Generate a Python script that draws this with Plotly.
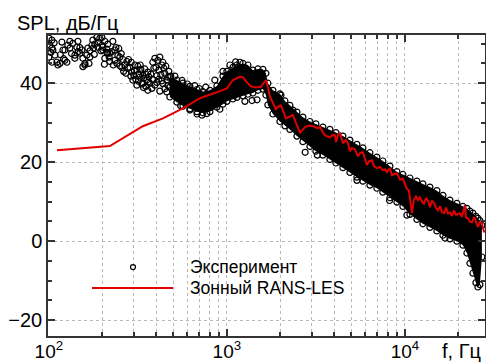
import plotly.graph_objects as go

# ---- Experimental spectrum: individually resolved points (low frequencies and outliers)
exp_freq = [
    100, 101.3, 104, 100, 105.3, 108.1, 110.9, 112.4, 115.3, 118.3, 119.9, 123, 126.2, 127.8,
    131.2, 136.4, 139.9, 143.6, 145.5, 149.3, 153.2, 155.2, 159.3, 163.4, 165.6, 174.4, 176.6,
    181.2, 186, 188.4, 193.3, 198.4, 201, 206.2, 211.6, 214.4,
    104, 104, 123, 131.2, 139.9, 149.3, 159.3, 169.9, 155.2, 102.5, 107, 116, 121, 134, 146,
    170, 180, 190, 196, 168, 178,
    198.4, 201, 211.6, 220, 228.7, 234.7, 240.9, 250.4, 257, 267.1, 277.7, 292.4, 304, 311.9,
    324.3, 337.1, 355, 359.6, 369, 383.6, 393.7, 409.3, 420, 431, 436.6, 448.1, 459.8, 465.8,
    478, 490.6, 497, 311.9, 337.1, 359.6, 296.2,
    206.2, 214.4, 220, 225.8, 234.7, 244, 250.4, 260.3, 270.6, 274.1, 285, 288.7, 300.1, 307.9,
    316, 320.1, 328.5, 332.8, 341.5, 345.9, 350.4, 364.3, 373.8, 378.7, 388.6, 398.8, 404,
    414.6, 425.5, 442.3, 453.9, 471.9, 484.3,
    393.7, 420, 448.1, 404, 436.6, 459.8, 383.6, 414.6, 431, 465.8,
    205, 218, 230, 238, 247, 255, 263, 280, 290, 302, 318, 326, 340, 352, 362,
    724, 772, 913, 855, 1184, 1262, 1384, 1477, 550, 620, 680, 1040, 1120, 950,
    510, 560, 600, 660, 700, 760,
    2012, 2349, 2752, 3222, 5376, 10260, 16800, 8200,
]
exp_spl = [
    51.4, 49.6, 50.9, 46.6, 48.4, 47.1, 45.3, 44.6, 45.0, 50.4, 48.4, 45.8, 45.3, 49.6,
    48.9, 50.1, 47.1, 49.1, 50.6, 47.6, 48.4, 46.3, 45.0, 47.1, 48.9, 49.6, 50.9,
    49.9, 51.6, 49.1, 51.4, 49.6, 48.4, 50.6, 48.6, 47.6,
    48.9, 45.3, 48.4, 50.6, 46.3, 49.0, 44.6, 46.6, 44.2, 47.8, 50.2, 47.2, 46.2, 47.5, 48.0,
    48.2, 47.3, 50.3, 48.2, 45.0, 48.9,
    51.6, 49.1, 47.8, 47.6, 50.6, 45.8, 45.0, 46.6, 44.0, 44.6, 43.8, 42.8, 44.6, 43.3,
    41.5, 42.0, 40.8, 42.8, 40.0, 45.3, 46.3, 45.8, 46.6, 44.6, 45.3, 42.5, 40.8, 41.5,
    39.0, 40.0, 38.2, 39.5, 40.0, 38.2, 40.8,
    46.3, 49.9, 45.5, 48.0, 48.4, 47.0, 44.4, 46.0, 42.5, 45.5, 44.0, 41.8, 42.0, 41.0,
    44.3, 42.3, 43.5, 39.8, 41.3, 43.6, 39.2, 41.6, 42.3, 38.7, 43.8, 44.0, 41.9,
    43.3, 42.2, 43.8, 44.3, 43.0, 41.8,
    39.5, 38.0, 38.6, 40.2, 39.9, 37.8, 40.9, 41.0, 40.6, 39.4,
    44.8, 46.6, 44.6, 49.0, 48.8, 47.5, 43.0, 46.0, 45.3, 43.2, 40.5, 44.6, 38.9, 42.2, 40.3,
    31.9, 32.3, 33.4, 40.8, 45.3, 35.4, 35.6, 35.8, 34.3, 33.2, 32.2, 44.6, 45.4, 43.0,
    41.8, 40.7, 39.8, 39.4, 38.6, 39.0,
    37.0, 33.2, 22.5, 21.8, 15.4, 6.6, 0.8, 10.3,
]

# ---- Experimental spectrum: saturated band (upper / lower edge of the point cloud)
band_freq = [
    478, 524, 566, 620, 679, 733, 803, 878, 950, 1000, 1081, 1138, 1230, 1312, 1400, 1494,
    1593, 1656, 1699, 1813, 1985, 2118, 2259, 2474, 2673, 2927, 3162, 3462, 3791, 4097,
    4485, 4911, 5376, 5808, 6358, 6962, 7520, 8236, 9018, 9745, 10670, 11680, 12620,
    13820, 15130, 16350, 17900, 19600, 21180, 22300, 23190, 24100, 25060, 25710, 26380, 27070,
]
band_upper = [
    41.5, 40.8, 40.0, 39.2, 38.4, 37.9, 38.2, 39.3, 41.8, 43.0, 44.0, 44.6, 45.0, 44.6, 43.3, 43.6,
    43.5, 42.5, 40.0, 38.2, 37.3, 35.5, 34.4, 32.7, 31.4, 30.3, 29.7, 28.9, 28.3, 27.5,
    26.6, 25.6, 24.5, 23.6, 22.4, 21.3, 20.3, 19.0, 17.6, 16.9, 16.0, 15.2, 14.5,
    13.7, 12.8, 11.6, 10.4, 9.6, 8.8, 8.3, 7.6, 7.1, 6.3, 5.8, 5.2, 4.0,
]
band_lower = [
    36.5, 35.2, 34.2, 33.5, 32.8, 32.5, 32.8, 33.9, 34.7, 35.4, 36.0, 36.4, 36.8, 37.2, 37.5, 38.2,
    38.5, 37.0, 34.5, 32.2, 30.3, 29.2, 28.3, 26.6, 25.2, 24.0, 22.8, 21.8, 20.7, 19.8,
    18.6, 17.4, 16.2, 15.2, 14.2, 13.4, 12.4, 11.0, 9.9, 8.8, 6.8, 5.5, 4.4,
    3.5, 2.6, 1.5, 0.6, 0.0, -1.0, -3.0, -5.6, -8.1, -10.5, -11.6, -11.0, -4.0,
]

# ---- Zonal RANS-LES computation
les_freq = [
    111, 220, 337, 437, 580, 705, 855, 1000, 1081, 1184, 1231, 1296, 1366, 1458, 1552, 1616,
    1656, 1699, 1748, 1813, 1885, 1937, 2012, 2090, 2146, 2265, 2349, 2440, 2578, 2673, 2752,
    2890, 3057, 3222, 3338, 3462, 3560, 3798, 3944, 4051, 4104, 4216, 4322, 4485, 4660, 4786,
    4911, 5040, 5226, 5452, 5597, 5808, 5960, 6117, 6277, 6532, 6704, 6962, 7247, 7520, 7718,
    7919, 8236, 8451, 8785, 9018, 9385, 9745, 10000, 10260, 10530, 10810, 10950, 11240, 11540,
    11840, 12150, 12480, 12800, 13140, 13490, 13830, 14200, 14580, 14970, 15360, 15740, 16150,
    16580, 17020, 17460, 17910, 18390, 18870, 19380, 19890, 20380, 20910, 21460, 21740, 22030,
    22610, 23190, 23800, 24430, 24740, 25390, 25710, 26380, 27080, 27790, 28150,
]
les_spl = [
    23.0, 24.1, 29.1, 31.1, 33.9, 36.2, 37.5, 38.7, 40.8, 41.6, 41.5, 40.2, 39.2, 38.9, 39.1, 40.3,
    40.8, 39.0, 36.5, 35.0, 33.4, 34.0, 34.4, 32.5, 31.1, 31.6, 31.9, 30.0, 27.5, 28.3, 28.9,
    29.3, 29.1, 28.6, 28.9, 27.5, 26.8, 26.3, 26.9, 26.8, 25.1, 27.0, 27.3, 24.8, 25.6, 24.8,
    22.8, 23.6, 23.3, 21.5, 22.3, 22.5, 21.0, 19.3, 20.2, 20.5, 19.0, 18.5, 18.8, 18.0, 18.2,
    17.5, 18.5, 16.7, 17.0, 17.2, 15.6, 15.8, 14.5, 13.2, 12.9, 9.0, 7.1, 10.5, 11.3,
    10.4, 11.1, 10.0, 9.5, 11.0, 10.2, 8.6, 10.3, 9.6, 8.4, 7.8, 8.9, 7.4,
    7.1, 8.5, 7.0, 7.3, 6.4, 7.8, 6.6, 6.9, 7.1, 6.2, 8.0, 9.1, 6.0,
    5.8, 4.9, 4.8, 6.0, 5.8, 4.2, 3.6, 4.9, 4.6, 2.5, 2.3,
]

# ---- Axis ticks
x_major = [100, 1000, 10000]
x_major_text = ["10<sup>2</sup>", "10<sup>3</sup>", "10<sup>4</sup>"]
x_minor = [m * d for d in (100, 1000, 10000) for m in range(2, 10)]
y_major = [-20, 0, 20, 40]

AXIS = "#333333"
GRID = "#b8b8b8"
RED = "#e00000"
FONT = "Liberation Sans, Arial, sans-serif"

fig = go.Figure()

# dense part of the measured spectrum
fig.add_trace(go.Scatter(
    x=band_freq + band_freq[::-1],
    y=band_upper + band_lower[::-1],
    mode="lines", fill="toself", fillcolor="black",
    line=dict(width=0, color="black"), hoverinfo="skip",
))

# measured points
fig.add_trace(go.Scatter(
    x=exp_freq + band_freq + band_freq,
    y=exp_spl + band_upper + band_lower,
    mode="markers",
    marker=dict(symbol="circle-open", size=6, color="black", line=dict(width=1.2)),
))

# computed spectrum
fig.add_trace(go.Scatter(
    x=les_freq, y=les_spl, mode="lines",
    line=dict(color=RED, width=2),
))

fig.update_layout(
    width=486, height=362,
    margin=dict(l=48, r=1, t=35, b=26),
    paper_bgcolor="white", plot_bgcolor="white",
    showlegend=False,
    font=dict(family=FONT, size=17, color="black"),
    xaxis=dict(
        type="log", range=[1.995, 4.45], automargin=False,
        tickmode="array", tickvals=x_major, ticktext=x_major_text,
        tickfont=dict(size=19), ticklabelstandoff=-3,
        ticks="inside", ticklen=7, tickwidth=1.5, tickcolor=AXIS,
        showline=True, linecolor=AXIS, linewidth=1.5, mirror="ticks",
        showgrid=True, gridcolor=GRID, griddash="dot", gridwidth=1,
        zeroline=False,
        minor=dict(tickmode="array", tickvals=x_minor, ticks="inside", ticklen=4,
                   tickcolor=AXIS, showgrid=True, gridcolor=GRID, griddash="dot"),
    ),
    yaxis=dict(
        range=[-24, 52.2], automargin=False,
        tickmode="array", tickvals=y_major,
        tickfont=dict(size=20),
        ticks="inside", ticklen=7, tickwidth=1.5, tickcolor=AXIS,
        showline=True, linecolor=AXIS, linewidth=1.5, mirror="ticks",
        showgrid=True, gridcolor=GRID, griddash="dot", gridwidth=1,
        zeroline=False,
        minor=dict(dtick=5, ticks="inside", ticklen=4, tickcolor=AXIS, showgrid=False),
    ),
)

# axis titles
fig.add_annotation(text="SPL, дБ/Гц", xref="paper", yref="paper", font=dict(size=20),
                   x=-0.0755, y=1.04, xanchor="left", yanchor="middle", showarrow=False)
fig.add_annotation(text="f, Гц", xref="paper", yref="paper", font=dict(size=20),
                   x=0.9954, y=-0.05, xanchor="right", yanchor="middle", showarrow=False)

# legend
fig.add_shape(type="circle", xref="paper", yref="paper",
              xsizemode="pixel", ysizemode="pixel", xanchor=0.1945, yanchor=0.229,
              x0=-2.5, x1=2.5, y0=-2.5, y1=2.5, line=dict(color="black", width=1.2))
fig.add_shape(type="line", xref="paper", yref="paper",
              x0=0.1007, x1=0.286, y0=0.1595, y1=0.1595, line=dict(color=RED, width=2))
fig.add_annotation(text="Эксперимент", xref="paper", yref="paper", font=dict(size=17.5),
                   x=0.320, y=0.229, xanchor="left", yanchor="middle", showarrow=False)
fig.add_annotation(text="Зонный RANS-LES", xref="paper", yref="paper", font=dict(size=17.5),
                   x=0.320, y=0.1595, xanchor="left", yanchor="middle", showarrow=False)

fig.write_html("out.html")
